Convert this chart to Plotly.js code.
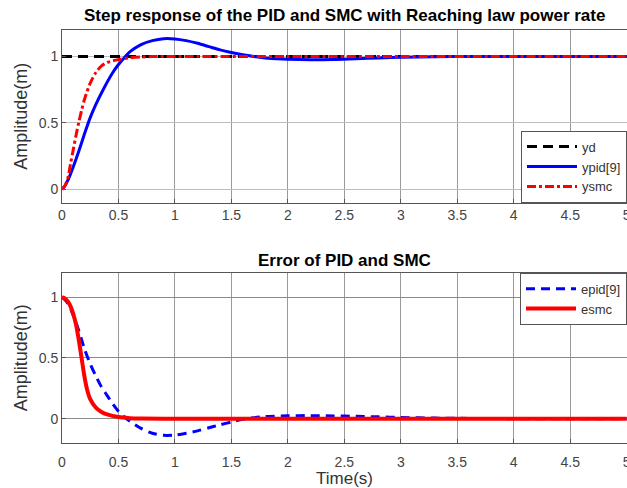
<!DOCTYPE html>
<html>
<head>
<meta charset="utf-8">
<script src="https://cdn.plot.ly/plotly-3.0.1.min.js"></script>
<style>html,body{margin:0;padding:0;background:#fff;}#chart{width:627px;height:488px;}</style>
</head>
<body>
<div id="chart"></div>
<script>
// ---- data ----
const tYd = [0, 5];
const yd = [1, 1];

const tPid = [0, 0.025, 0.05, 0.075, 0.1, 0.15, 0.2, 0.25, 0.3, 0.37, 0.45, 0.5, 0.55, 0.6, 0.7, 0.8, 0.9, 1.0, 1.1, 1.2, 1.3, 1.4, 1.5, 1.6, 1.7, 1.8, 1.9, 2.0, 2.2, 2.4, 2.6, 2.8, 3.0, 3.3, 3.6, 4.0, 4.5, 5.0];
const ypid = [0, 0.025, 0.065, 0.115, 0.17, 0.29, 0.42, 0.54, 0.64, 0.76, 0.88, 0.94, 0.99, 1.035, 1.09, 1.12, 1.135, 1.133, 1.12, 1.1, 1.075, 1.05, 1.03, 1.013, 1.0, 0.99, 0.983, 0.979, 0.976, 0.978, 0.984, 0.99, 0.995, 0.999, 1.0, 1.0, 1.0, 1.0];

const tSmc = [0, 0.025, 0.05, 0.075, 0.1, 0.125, 0.15, 0.175, 0.2, 0.25, 0.3, 0.35, 0.4, 0.5, 0.6, 0.7, 0.8, 1.0, 2.0, 3.0, 4.0, 5.0];
const ysmc = [0, 0.025, 0.08, 0.19, 0.3, 0.41, 0.51, 0.6, 0.68, 0.8, 0.88, 0.93, 0.955, 0.977, 0.99, 0.997, 1.0, 1.0, 1.0, 1.0, 1.0, 1.0];

const tEpid = [0, 0.05, 0.1, 0.15, 0.2, 0.25, 0.3, 0.35, 0.4, 0.45, 0.5, 0.57, 0.6, 0.7, 0.8, 0.9, 1.0, 1.1, 1.2, 1.3, 1.4, 1.5, 1.6, 1.7, 1.8, 2.0, 2.2, 2.4, 2.6, 2.8, 3.0, 3.3, 3.6, 4.0, 4.5, 5.0];
const epid = [1, 0.95, 0.85, 0.72, 0.57, 0.45, 0.35, 0.26, 0.19, 0.12, 0.06, 0, -0.02, -0.08, -0.12, -0.137, -0.135, -0.12, -0.1, -0.075, -0.05, -0.027, -0.006, 0.008, 0.017, 0.024, 0.025, 0.023, 0.02, 0.015, 0.01, 0.005, 0.002, 0, 0, 0];

const tEsmc = [0, 0.025, 0.05, 0.075, 0.1, 0.125, 0.15, 0.175, 0.2, 0.225, 0.25, 0.3, 0.35, 0.4, 0.5, 0.6, 0.7, 1.0, 2.0, 3.0, 4.0, 5.0];
const esmc = [1, 0.99, 0.965, 0.925, 0.86, 0.77, 0.64, 0.49, 0.34, 0.23, 0.16, 0.09, 0.055, 0.035, 0.013, 0.004, 0.001, 0, 0, 0, 0, 0];

const xTicks = [0, 0.5, 1, 1.5, 2, 2.5, 3, 3.5, 4, 4.5, 5];
const xTickText = ['0', '0.5', '1', '1.5', '2', '2.5', '3', '3.5', '4', '4.5', '5'];
const yTicks = [0, 0.5, 1];
const yTickText = ['0', '0.5', '1'];

const topTitle = 'Step response of the PID and SMC with Reaching law power rate';
const botTitle = 'Error of PID and SMC';

// ---- chart ----
const FONT = 'Liberation Sans, Arial, sans-serif';
const traces = [
  {x: tYd, y: yd, name: 'yd', mode: 'lines', xaxis: 'x', yaxis: 'y',
   line: {color: '#000000', width: 3, dash: '10px,6px'}, legend: 'legend'},
  {x: tPid, y: ypid, name: 'ypid[9]', mode: 'lines', xaxis: 'x', yaxis: 'y',
   line: {color: '#0000ff', width: 3, shape: 'spline', smoothing: 0.8}, legend: 'legend'},
  {x: tSmc, y: ysmc, name: 'ysmc', mode: 'lines', xaxis: 'x', yaxis: 'y',
   line: {color: '#ff0000', width: 3, dash: '9px,3px,3px,3px', shape: 'spline', smoothing: 0.8}, legend: 'legend'},
  {x: tEpid, y: epid, name: 'epid[9]', mode: 'lines', xaxis: 'x2', yaxis: 'y2',
   line: {color: '#0000ff', width: 3, dash: '9px,6px', shape: 'spline', smoothing: 0.8}, legend: 'legend2'},
  {x: tEsmc, y: esmc, name: 'esmc', mode: 'lines', xaxis: 'x2', yaxis: 'y2',
   line: {color: '#ff0000', width: 4, shape: 'spline', smoothing: 0.8}, legend: 'legend2'}
];

const xBase = {
  range: [0, 5.003], tickvals: xTicks, ticktext: xTickText,
  showgrid: true, gridcolor: '#9a9a9a', gridwidth: 1,
  showline: true, linecolor: '#555', linewidth: 1, mirror: true,
  ticks: 'inside', ticklen: 4, tickcolor: '#555', ticklabeloverflow: 'allow',
  zeroline: false, tickfont: {family: FONT, size: 14, color: '#444'}, automargin: false
};
const yBase = {
  tickvals: yTicks, ticktext: yTickText,
  showgrid: true, gridwidth: 1,
  showline: true, linecolor: '#555', linewidth: 1, mirror: false,
  ticks: 'inside', ticklen: 4, tickcolor: '#555',
  zeroline: false, tickfont: {family: FONT, size: 14, color: '#444'}, automargin: false,
  title: {text: 'Amplitude(m)', font: {family: FONT, size: 18, color: '#333'}, standoff: 6}
};

const layout = {
  width: 627, height: 488,
  margin: {l: 62, r: 0, t: 30, b: 45},
  paper_bgcolor: '#ffffff', plot_bgcolor: '#ffffff',
  showlegend: true,
  xaxis: Object.assign({}, xBase, {domain: [0, 1], anchor: 'y'}),
  yaxis: Object.assign({}, yBase, {domain: [0.582, 1], range: [-0.1, 1.2], anchor: 'x', gridcolor: '#bdbdbd'}),
  xaxis2: Object.assign({}, xBase, {domain: [0, 1], anchor: 'y2', ticklabelstandoff: 6,
    title: {text: 'Time(s)', font: {family: FONT, size: 17, color: '#333'}, standoff: 2}}),
  yaxis2: Object.assign({}, yBase, {domain: [0, 0.4123], range: [-0.2, 1.2], anchor: 'x2', gridcolor: '#8a8a8a'}),
  legend: {x: 1, xanchor: 'right', y: 0.582, yanchor: 'bottom', bgcolor: '#ffffff',
    bordercolor: '#555', borderwidth: 1, font: {family: FONT, size: 13, color: '#333'},
    tracegroupgap: 0, itemwidth: 50},
  legend2: {x: 1, xanchor: 'right', y: 0.4123, yanchor: 'top', bgcolor: '#ffffff',
    bordercolor: '#555', borderwidth: 1, font: {family: FONT, size: 13, color: '#333'},
    tracegroupgap: 0, itemwidth: 50},
  annotations: [
    {text: '<b>' + topTitle + '</b>', xref: 'paper', yref: 'paper', x: 0.5, y: 1, yanchor: 'bottom', yshift: 3,
     showarrow: false, font: {family: FONT, size: 17, color: '#000'}},
    {text: '<b>' + botTitle + '</b>', xref: 'paper', yref: 'paper', x: 0.5, y: 0.4123, yanchor: 'bottom', yshift: 1,
     showarrow: false, font: {family: FONT, size: 17, color: '#000'}}
  ]
};

Plotly.newPlot('chart', traces, layout, {displayModeBar: false, staticPlot: true});
</script>
</body>
</html>
